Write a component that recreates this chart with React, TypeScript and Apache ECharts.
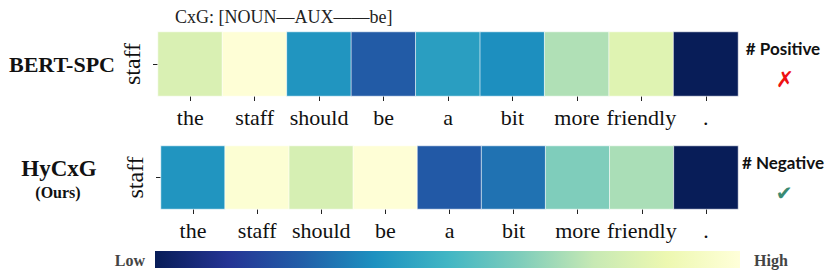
import React, { useEffect, useRef } from "react";
import * as echarts from "echarts";

const tokens = ["the", "staff", "should", "be", "a", "bit", "more", "friendly", "."];
const rowLabel = ["staff"];
const bertValues = [0.81, 0.99, 0.39, 0.24, 0.42, 0.37, 0.71, 0.83, 0.0];
const hycxgValues = [0.39, 0.98, 0.8, 0.99, 0.235, 0.3, 0.625, 0.7, 0.0];
const modelNames = ["BERT-SPC", "HyCxG"];
const predictions = ["# Positive", "# Negative"];
// YlGnBu, dark (low) to light (high)
const colorStops = ["#081d58", "#253494", "#225ea8", "#1d91c0", "#41b6c4", "#7fcdbb", "#c7e9b4", "#edf8b1", "#ffffd9"];

const SERIF = "Liberation Serif";
const SANS = "Lato";

export default function App() {
  const ref = useRef<HTMLDivElement>(null);
  useEffect(() => {
    if (!ref.current) return;
    const chart = echarts.init(ref.current, undefined, { renderer: "svg" });
    const toData = (vals: number[]) => vals.map((v, i) => [i, 0, v]);
    const xAxisBase = (gridIndex: number) => ({
      type: "category" as const,
      gridIndex,
      data: tokens,
      axisLine: { show: false },
      axisTick: { show: true, length: 5, alignWithLabel: true, lineStyle: { color: "#222", width: 1 } },
      axisLabel: { color: "#111", fontFamily: SERIF, fontSize: 22, margin: 10, interval: 0, hideOverlap: false },
      splitArea: { show: false },
    });
    const yAxisBase = (gridIndex: number) => ({
      type: "category" as const,
      gridIndex,
      data: rowLabel,
      axisLine: { show: false },
      axisTick: { show: true, length: 5, alignWithLabel: true, lineStyle: { color: "#222", width: 1 } },
      axisLabel: { color: "#111", fontFamily: SERIF, fontSize: 24, rotate: 90, margin: 14 },
    });
    const gradient = new echarts.graphic.LinearGradient(
      0, 0, 1, 0,
      colorStops.map((c, i) => ({ offset: i / (colorStops.length - 1), color: c }))
    );
    const txt = (text: string, x: number, y: number, size: number, opts: any = {}) => ({
      type: "text",
      x,
      y,
      style: {
        text,
        fontFamily: opts.family || SERIF,
        fontSize: size,
        fontWeight: opts.weight || "normal",
        fontStyle: opts.style || "normal",
        fill: opts.fill || "#111",
        align: opts.align || "center",
        verticalAlign: "middle",
      },
    });
    chart.setOption({
      animation: false,
      grid: [
        { left: 158, top: 32, width: 580, height: 64 },
        { left: 161, top: 146, width: 577, height: 63 },
      ],
      xAxis: [xAxisBase(0), xAxisBase(1)],
      yAxis: [yAxisBase(0), yAxisBase(1)],
      visualMap: {
        type: "continuous",
        min: 0,
        max: 1,
        show: false,
        seriesIndex: [0, 1],
        inRange: { color: colorStops },
      },
      series: [
        {
          type: "heatmap",
          xAxisIndex: 0,
          yAxisIndex: 0,
          data: toData(bertValues),
          itemStyle: { borderColor: "rgba(255,255,255,0.8)", borderWidth: 0.8 },
        },
        {
          type: "heatmap",
          xAxisIndex: 1,
          yAxisIndex: 1,
          data: toData(hycxgValues),
          itemStyle: { borderColor: "rgba(255,255,255,0.8)", borderWidth: 0.8 },
        },
      ],
      graphic: [
        txt("CxG: [NOUN\u2014AUX\u2014\u2014be]", 175, 17, 18, { align: "left", fill: "#222" }),
        txt(modelNames[0], 62, 64, 22, { weight: "bold" }),
        txt(modelNames[1], 59, 168, 23, { weight: "bold" }),
        txt("(Ours)", 58, 192, 16, { weight: "bold" }),
        txt(predictions[0], 783, 48, 17, { weight: "bold", family: SANS }),
        txt("\u2717", 785, 79, 22, { family: "DejaVu Sans", fill: "#ee1111", style: "italic" }),
        txt(predictions[1], 783, 162, 17, { weight: "bold", family: SANS }),
        txt("\u2714", 784, 193, 20, { family: "DejaVu Sans", fill: "#3a8a72" }),
        {
          type: "rect",
          shape: { x: 155, y: 251, width: 585, height: 17 },
          style: { fill: gradient },
        },
        txt("Low", 145, 260, 16, { weight: "bold", fill: "#444", align: "right" }),
        txt("High", 754, 260, 16, { weight: "bold", fill: "#444", align: "left" }),
      ],
    });
    return () => chart.dispose();
  }, []);
  return (
    <div
      ref={ref}
      style={{ position: "fixed", left: 0, top: 0, width: 830, height: 273, background: "#fff" }}
    />
  );
}
